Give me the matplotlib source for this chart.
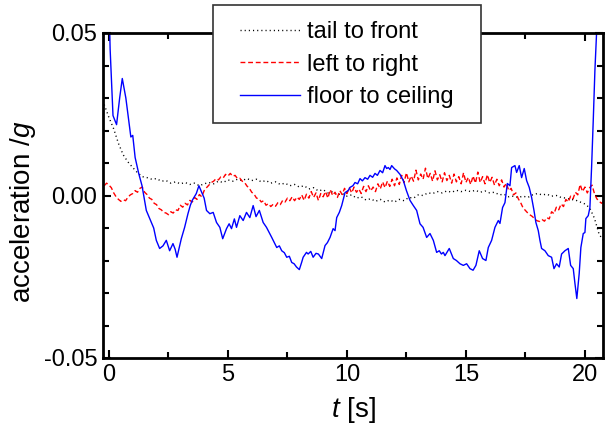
import matplotlib
matplotlib.use("Agg")
import matplotlib.pyplot as plt
import matplotlib.patches as mpatches
import numpy as np
from matplotlib.ticker import MultipleLocator, FormatStrFormatter

plt.rcParams['font.family'] = ['Liberation Sans', 'DejaVu Sans']
plt.rcParams['mathtext.fontset'] = 'custom'
plt.rcParams['mathtext.rm'] = 'Liberation Sans'
plt.rcParams['mathtext.it'] = 'Liberation Sans:italic'
plt.rcParams['axes.unicode_minus'] = False

# tail to front (dotted), milli-g, sampled every 0.2 s from -0.2 s
t_tail = np.arange(-0.2, 20.81, 0.2)
tail_mg = [28, 24, 20.5, 16, 12.5, 10.3, 8.6, 7.0, 5.8, 5.5, 5.0, 5.2, 4.4, 4.6, 3.8,
           4.2, 3.6, 4.0, 3.4, 3.8, 3.0, 3.6, 4.0, 3.6, 4.4, 4.0, 4.8, 4.4, 5.0, 4.6,
           5.2, 4.6, 5.0, 4.2, 4.6, 3.8, 4.2, 3.4, 3.8, 3.0, 3.4, 2.6, 3.0, 2.0, 2.4,
           1.4, 1.8, 0.8, 1.2, 0.2, 0.6, -0.2, 0.2, -0.8, -0.4, -1.4, -1.0, -1.8, -1.2,
           -2.0, -1.4, -2.0, -1.2, -1.6, -0.6, -0.8, 0.2, 0.0, 0.8, 0.6, 1.2, 0.8, 1.4,
           1.0, 1.6, 1.2, 1.6, 1.2, 1.6, 1.0, 1.4, 0.8, 1.0, 0.2, 0.4, -0.4, -0.2, -0.6,
           -0.2, -0.6, 0.2, 0.6, 0.2, 0.4, -0.2, 0.0, -0.6, -0.8, -1.2, -1.4, -2.0, -2.6,
           -3.8, -7.0, -12.0, -14.0]

# left to right (dashed), milli-g, sampled every 0.1 s from -0.2 s
t_left = np.arange(-0.2, 20.81, 0.1)
left_mg = [3.0, 3.8, 3.2, 2.4, 0.8, -0.4, -1.2, -1.8, -1.3, -1.6, -0.5, 0.2, 0.6, 1.5,
           1.0, 2.2, 2.6, 1.0, 0.3, -0.8, -1.2, -2.4, -2.8, -4.0, -4.4, -5.2, -5.4, -5.9,
           -5.0, -5.4, -4.4, -4.6, -3.0, -3.6, -2.4, -2.9, -1.5, -2.0, -0.6, -1.2, 0.3,
           -0.4, 1.5, 2.4, 3.2, 4.0, 4.4, 5.2, 4.8, 5.7, 5.4, 6.5, 6.0, 6.8, 5.9, 6.2,
           5.2, 5.3, 4.4, 4.0, 2.9, 2.2, 1.0, 0.4, -0.8, -1.0, -2.0, -1.6, -3.0, -2.5,
           -3.4, -2.7, -3.3, -2.2, -2.8, -1.5, -2.0, -0.8, -1.6, -0.4, -1.6, -0.5, -1.2,
           0.2, -1.5, 0.4, -0.8, 1.2, -0.6, 0.8, -1.5, 0.6, -0.4, 1.2, -0.8, 1.8, 0.0,
           1.0, -0.6, 1.5, 0.3, 2.2, 0.6, 2.4, 0.8, 2.6, 1.0, 2.0, 0.6, 2.8, 1.2, 3.0,
           1.4, 2.6, 1.2, 3.6, 2.0, 4.2, 2.4, 4.4, 2.8, 5.0, 3.0, 5.4, 3.4, 6.2, 4.0,
           7.0, 4.2, 6.0, 4.4, 7.8, 4.8, 6.6, 5.0, 8.4, 5.2, 6.8, 4.4, 7.6, 4.8, 6.4,
           4.2, 7.0, 4.6, 6.2, 3.8, 6.6, 4.2, 5.8, 3.6, 7.0, 4.0, 5.6, 3.4, 6.0, 3.8,
           7.2, 4.0, 5.8, 3.6, 6.4, 4.0, 5.6, 3.2, 5.0, 3.0, 4.8, 2.6, 3.8, 1.5, 2.2,
           0.2, 0.8, -1.0, -2.2, -3.8, -4.6, -5.4, -6.0, -6.5, -7.4, -7.8, -8.0, -7.4,
           -7.9, -6.8, -7.2, -5.0, -5.6, -3.6, -4.4, -2.6, -3.4, -1.2, -2.0, -0.2, -1.0,
           1.0, 0.2, 3.4, 1.2, 2.6, 0.8, 2.4, 3.2, 0.6, -1.0, -1.8, -2.4, -1.6]

# floor to ceiling (solid), milli-g, irregular sample times
t_floor = [0.0, 0.05, 0.17, 0.32, 0.45, 0.56, 0.71, 0.92, 1.0, 1.1, 1.25, 1.39, 1.46,
           1.57, 1.78, 1.88, 1.99, 2.13, 2.27, 2.41, 2.55, 2.69, 2.78, 2.86, 3.04, 3.18,
           3.32, 3.42, 3.5, 3.67, 3.78, 3.92, 4.0, 4.1, 4.24, 4.38, 4.52, 4.66, 4.78,
           4.94, 5.05, 5.15, 5.27, 5.36, 5.5, 5.64, 5.78, 5.92, 6.06, 6.18, 6.32, 6.48,
           6.62, 6.84, 7.05, 7.16, 7.26, 7.37, 7.47, 7.58, 7.68, 7.78, 7.88, 8.0, 8.1,
           8.16, 8.3, 8.37, 8.48, 8.58, 8.7, 8.8, 8.94, 9.08, 9.18, 9.29, 9.42, 9.5,
           9.57, 9.68, 9.78, 9.92, 10.05, 10.13, 10.25, 10.34, 10.45, 10.55, 10.65,
           10.76, 10.87, 10.97, 11.08, 11.18, 11.28, 11.39, 11.5, 11.6, 11.67, 11.74,
           11.81, 11.88, 12.0, 12.09, 12.23, 12.37, 12.5, 12.65, 12.79, 12.93, 13.07,
           13.2, 13.35, 13.49, 13.63, 13.77, 13.88, 13.97, 14.05, 14.12, 14.3, 14.47,
           14.6, 14.75, 14.89, 15.03, 15.17, 15.3, 15.42, 15.56, 15.7, 15.84, 15.94,
           16.08, 16.22, 16.36, 16.43, 16.54, 16.64, 16.74, 16.85, 16.92, 17.06, 17.13,
           17.24, 17.34, 17.45, 17.55, 17.66, 17.76, 17.86, 17.94, 18.04, 18.11, 18.18,
           18.32, 18.46, 18.6, 18.7, 18.81, 18.92, 19.02, 19.16, 19.3, 19.4, 19.51,
           19.58, 19.66, 19.76, 19.83, 19.93, 20.0, 20.04, 20.14, 20.21, 20.28, 20.35,
           20.42, 20.49, 20.6]
floor_mg = [60, 45, 24.6, 21.8, 30, 36, 30, 18, 18.5, 11.7, 6.8, 3.0, 0, -4.6, -8.3,
            -10.0, -13.8, -16.3, -15.5, -13.8, -17, -14.8, -16.5, -19, -13.3, -9.8, -5.6,
            -3.0, -1.5, 0.6, 3.0, 0.6, -0.8, -4.6, -5.6, -5.2, -8.3, -9.8, -13.3, -10.2,
            -8.7, -10.2, -7.2, -9.8, -6.2, -7.7, -5.2, -6.8, -3.1, -6.5, -4.6, -8.3, -9.8,
            -12.9, -16, -15.5, -17, -17.6, -19, -18.7, -20.6, -21, -22, -22.8, -20.5, -19,
            -17.5, -18, -17.2, -19, -17.8, -18, -19.4, -15.4, -14.5, -12.9, -10.2, -10.8,
            -6.8, -5.2, -3.1, 0.9, 1.5, 2.5, 3.0, 4.0, 3.6, 5.2, 4.5, 5.5, 5.0, 6.2, 5.6,
            6.8, 6.2, 7.7, 7.0, 9.2, 8.3, 8.6, 8.0, 9.2, 8.2, 7.7, 6.5, 4.6, 1.5, -1.5,
            -3.1, -4.6, -8.7, -9.8, -12.9, -11.7, -13.8, -17.5, -17.0, -18.0, -17.5,
            -18.5, -16.3, -19.4, -20, -21, -21.5, -21, -22.5, -23, -21.5, -17, -19.4, -20,
            -16, -13.8, -9.8, -7.7, -8.6, -3.7, -2.2, 3.7, 3.0, 8.6, 9.2, 7.1, 9.2, 5.5,
            8.3, 4.6, 2.5, -0.6, -4.6, -8.3, -10.8, -13.8, -16.3, -17, -18.5, -19, -22.5,
            -21, -22, -18, -17, -16.3, -21.5, -22.5, -27, -31.7, -24, -16, -11.7, -11.4,
            -7.1, -6.2, -3.7, 8.6, 23, 38.5, 50, 65]

fig = plt.figure(figsize=(6.05, 4.37), dpi=100)
ax = fig.add_axes([103 / 605, 79 / 437, 500 / 605, 325 / 437])

ax.plot(t_tail, np.array(tail_mg) / 1000, color='black', linestyle=(0, (0.8, 2.2)),
        linewidth=1.0, label='tail to front')
ax.plot(t_left, np.array(left_mg) / 1000, color='red', linestyle=(0, (3.5, 2)),
        linewidth=1.0, label='left to right')
ax.plot(t_floor, np.array(floor_mg) / 1000, color='blue', linewidth=1.0,
        label='floor to ceiling')

ax.set_xlim(-0.25, 20.76)
ax.set_ylim(-0.05, 0.05)
ax.xaxis.set_major_locator(MultipleLocator(5))
ax.xaxis.set_minor_locator(MultipleLocator(2.5))
ax.yaxis.set_major_locator(MultipleLocator(0.05))
ax.yaxis.set_minor_locator(MultipleLocator(0.01))
ax.yaxis.set_major_formatter(FormatStrFormatter('%.2f'))
ax.tick_params(which='both', direction='in', top=True, right=True, labelsize=17,
               width=1.5, color='black')
ax.tick_params(which='major', length=6, pad=4)
ax.tick_params(which='minor', length=4)
for s in ax.spines.values():
    s.set_linewidth(2)

ax.set_xlabel('$t$ [s]', fontsize=20, labelpad=7)
ax.set_ylabel('acceleration /$g$', fontsize=20)
ax.yaxis.set_label_coords(-0.13, 0.45)

# legend box drawn separately so its size matches the original
box = mpatches.Rectangle((213 / 605, 1 - 123 / 437), 268 / 605, 118 / 437,
                         transform=fig.transFigure, facecolor='white',
                         edgecolor='#333333', linewidth=1.2, zorder=4)
fig.patches.append(box)
leg = fig.legend(loc='upper left', bbox_to_anchor=(240 / 605, 1 - 21 / 437),
                 fontsize=17, frameon=False, handlelength=2.55, handletextpad=0.3,
                 borderpad=0, labelspacing=0.45, borderaxespad=0)
leg.set_zorder(5)

fig.savefig('out.png', dpi=100)
